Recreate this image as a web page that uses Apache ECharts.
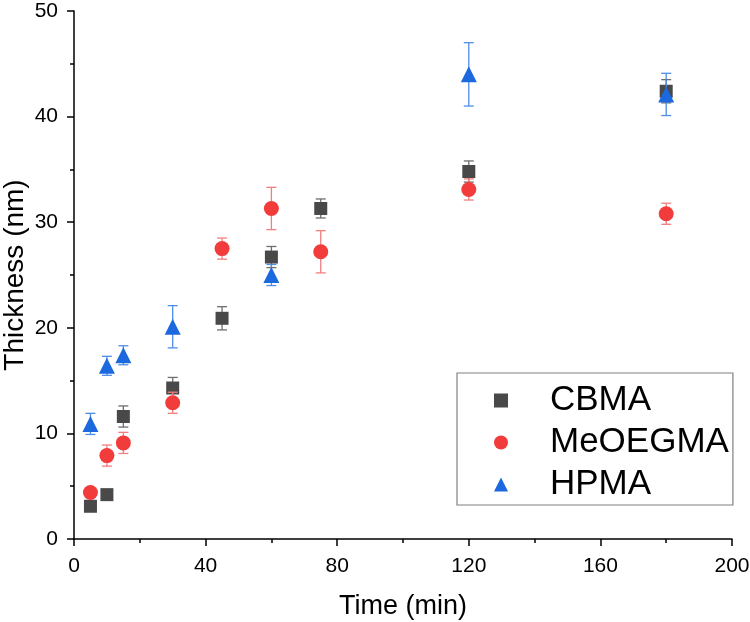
<!DOCTYPE html>
<html>
<head>
<meta charset="utf-8">
<script src="https://cdn.jsdelivr.net/npm/echarts@6/dist/echarts.min.js"></script>
<style>html,body{margin:0;padding:0;background:#fff}#c{width:750px;height:622px}</style>
</head>
<body>
<div id="c"></div>
<script>
const seriesNames = ['CBMA', 'MeOEGMA', 'HPMA'];
const cbmaTime = [5, 10, 15, 30, 45, 60, 75, 120, 180];
const cbmaThk  = [3.1, 4.2, 11.6, 14.3, 20.9, 26.7, 31.3, 34.8, 42.4];
const cbmaErr  = [0.2, 0.2, 1.0, 1.0, 1.1, 1.0, 0.9, 1.0, 1.1];
const meoTime = [5, 10, 15, 30, 45, 60, 75, 120, 180];
const meoThk  = [4.4, 7.9, 9.1, 12.9, 27.5, 31.3, 27.2, 33.1, 30.8];
const meoErr  = [0.3, 1.0, 1.0, 1.0, 1.0, 2.0, 2.0, 1.0, 1.0];
const hpmaTime = [5, 10, 15, 30, 60, 120, 180];
const hpmaThk  = [10.9, 16.4, 17.4, 20.1, 25.0, 44.0, 42.1];
const hpmaErr  = [1.0, 0.9, 0.9, 2.0, 1.0, 3.0, 2.0];
const xTicks = [0, 40, 80, 120, 160, 200];
const yTicks = [0, 10, 20, 30, 40, 50];

const FONT = "'Liberation Sans', Arial, sans-serif";
const colors = ['#494949', '#f23c3c', '#1c68de'];
const errColors = ['#6e6e6e', '#f07f7f', '#4f8ee6'];
const symbols = ['rect', 'circle', 'triangle'];
const sizes = [13, 15, 16];

function zip(t, v, e) { return t.map((x, i) => [x, v[i], e[i]]); }
const sets = [zip(cbmaTime, cbmaThk, cbmaErr), zip(meoTime, meoThk, meoErr), zip(hpmaTime, hpmaThk, hpmaErr)];

function errRender(color) {
  return function (params, api) {
    const x = api.value(0), y = api.value(1), e = api.value(2);
    const top = api.coord([x, y + e]), bot = api.coord([x, y - e]);
    const hw = 5;
    const st = { stroke: color, lineWidth: 1.3 };
    return { type: 'group', children: [
      { type: 'line', shape: { x1: top[0], y1: top[1], x2: bot[0], y2: bot[1] }, style: st },
      { type: 'line', shape: { x1: top[0] - hw, y1: top[1], x2: top[0] + hw, y2: top[1] }, style: st },
      { type: 'line', shape: { x1: bot[0] - hw, y1: bot[1], x2: bot[0] + hw, y2: bot[1] }, style: st }
    ]};
  };
}

const series = [];
sets.forEach((d, i) => {
  series.push({
    type: 'custom', name: seriesNames[i] + '_err', data: d, z: 2 + i * 2,
    encode: { x: 0, y: 1 }, renderItem: errRender(errColors[i]), silent: true
  });
  series.push({
    type: 'scatter', name: seriesNames[i], data: d.map(p => [p[0], p[1]]), z: 3 + i * 2,
    symbol: symbols[i], symbolSize: sizes[i], itemStyle: { color: colors[i], opacity: 1 }
  });
});

const axisCommon = {
  axisLine: { show: true, lineStyle: { color: '#000', width: 1.5 } },
  axisTick: { show: true, length: 7, lineStyle: { color: '#000', width: 1.5 } },
  minorTick: { show: true, splitNumber: 2, length: 4, lineStyle: { color: '#000', width: 1.5 } },
  splitLine: { show: false },
  axisLabel: { color: '#000', fontSize: 21, fontFamily: FONT },
  nameTextStyle: { color: '#000', fontFamily: FONT }
};

const chart = echarts.init(document.getElementById('c'), null, { renderer: 'canvas' });
chart.setOption({
  animation: false,
  backgroundColor: '#fff',
  grid: { left: 74, right: 18, top: 11, bottom: 83, containLabel: false, outerBoundsMode: 'none' },
  xAxis: Object.assign({}, axisCommon, {
    type: 'value', min: xTicks[0], max: xTicks[xTicks.length - 1], interval: xTicks[1] - xTicks[0],
    name: 'Time (min)', nameLocation: 'middle', nameGap: 54,
    axisLabel: Object.assign({}, axisCommon.axisLabel, { margin: 17 }),
    nameTextStyle: Object.assign({}, axisCommon.nameTextStyle, { fontSize: 27 })
  }),
  yAxis: Object.assign({}, axisCommon, {
    type: 'value', min: yTicks[0], max: yTicks[yTicks.length - 1], interval: yTicks[1] - yTicks[0],
    name: 'Thickness (nm)', nameLocation: 'middle', nameGap: 45, nameMoveOverlap: false,
    axisLabel: Object.assign({}, axisCommon.axisLabel, { margin: 16 }),
    nameTextStyle: Object.assign({}, axisCommon.nameTextStyle, { fontSize: 28 })
  }),
  legend: {
    data: seriesNames.map((n, i) => ({ name: n, icon: symbols[i] })),
    orient: 'vertical', left: 457, top: 373,
    itemWidth: 14, itemHeight: 14, itemGap: 7,
    padding: [10, 4, 3, 37],
    borderColor: '#808080', borderWidth: 1.2,
    textStyle: { color: '#000', fontSize: 35, fontFamily: FONT, lineHeight: 30, padding: [0, 0, 0, 37] }
  },
  series: series
});
</script>
</body>
</html>
